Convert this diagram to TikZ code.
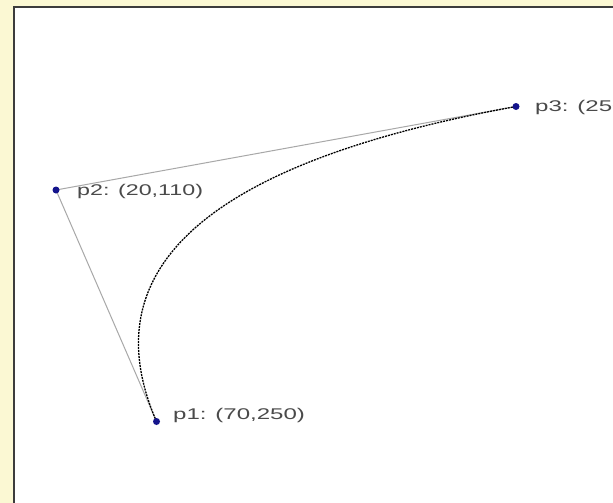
\documentclass[tikz,border=0pt]{standalone}
\usepackage{fontspec}
\setmainfont{Liberation Sans}
\usetikzlibrary{calc}
\definecolor{creambg}{HTML}{FBF8D3}
\definecolor{framec}{HTML}{3C3C3C}
\definecolor{dotc}{HTML}{14148C}
\definecolor{labelc}{HTML}{4A4A4A}
\definecolor{linec}{HTML}{A8A8A8}
\begin{document}
\begin{tikzpicture}[x=1pt,y=-1pt,
  ptdot/.style={circle,fill=dotc,inner sep=0pt,minimum width=7pt,minimum height=5.5pt},
  ptlabel/.style={anchor=base west,inner sep=0pt,text=labelc,font=\fontsize{15.5}{18}\selectfont},
  ctrlline/.style={draw=linec,line width=1pt},
  curveline/.style={draw=black,line width=1.3pt,dash pattern=on 2pt off 1pt}]
\useasboundingbox (0,0) rectangle (613,503);
\fill[creambg] (0,0) rectangle (613,503);
\fill[white] (14,7) rectangle (613,503);
\draw[framec,line width=2pt] (14,503) -- (14,7.5) -- (613,7.5);
\begin{scope}
\clip (15,8) rectangle (613,503);
\coordinate (P1) at (156.5,421.5);
\coordinate (P2) at (56,190);
\coordinate (P3) at (516,106.5);
\draw[ctrlline] (P1) -- (P2) -- (P3);
\draw[curveline] (P1) .. controls ($(P1)!0.6667!(P2)$) and ($(P3)!0.6667!(P2)$) .. (P3);
\node[ptdot] (d1) at (P1) {};
\node[ptdot] (d2) at (P2) {};
\node[ptdot] (d3) at (P3) {};
\node[ptlabel] (l1) at (173,419) {\scalebox{1.55}[1]{p1: (70,250)}};
\node[ptlabel] (l2) at (77,195) {\scalebox{1.5}[1]{p2: (20,110)}};
\node[ptlabel] (l3) at (535,111) {\scalebox{1.55}[1]{p3: (250,60)}};
\end{scope}
\end{tikzpicture}
\end{document}
